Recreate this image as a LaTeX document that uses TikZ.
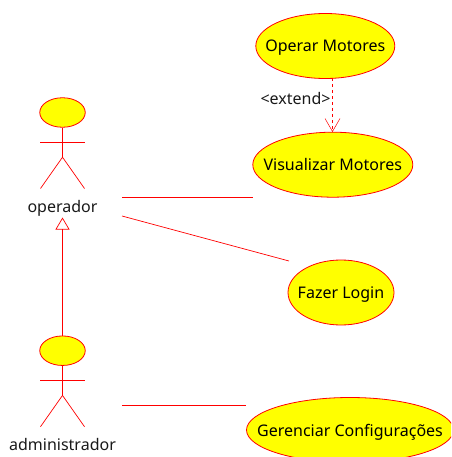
\documentclass[tikz,border=0pt]{standalone}
\usepackage{fontspec}
\setmainfont{Noto Sans}
\usetikzlibrary{arrows.meta,shapes.geometric}
\definecolor{textdecorate}{RGB}{25,25,25}
\definecolor{filldecorate}{RGB}{255,255,0}
\definecolor{strokedecorate}{RGB}{255,0,0}
\tikzset{
  usecasedecorate/.style={shape=ellipse,draw=strokedecorate,fill=filldecorate,line width=0.8pt,
    inner xsep=-40pt,inner ysep=-5pt,text height=12pt,text depth=0pt,
    minimum height=65pt,text=black,font=\fontsize{16}{19}\selectfont},
  headdecorate/.style={shape=ellipse,draw=strokedecorate,fill=filldecorate,line width=0.8pt,inner sep=0pt,
    minimum width=45.5pt,minimum height=29.5pt},
  labeldecorate/.style={inner sep=0pt,text height=12pt,text depth=0pt,text=textdecorate,
    font=\fontsize{16}{19}\selectfont},
  linedecorate/.style={draw=strokedecorate,line width=0.7pt},
  extenddecorate/.style={linedecorate,dashed,-{Straight Barb[length=13pt,width=15pt,line width=0.5pt]}},
  inheritdecorate/.style={linedecorate,-{Triangle[open,length=12pt,width=14pt,line width=0.7pt]}}
}
\begin{document}
\begin{tikzpicture}[x=1pt,y=-1pt]
\clip (0,0) rectangle (451,457);
%% use cases
\foreach \nodename/\x/\y/\w/\name in {operar/325.3/46/139/Operar Motores,
  visualizar/332.8/164.7/160/Visualizar Motores,
  login/341/292.5/106/Fazer Login,
  config/350/430/207/Gerenciar Configurações} {
  \node (\nodename) at (\x,\y) [usecasedecorate,minimum width=\w pt] {\name};
}
%% actors
\foreach \nodename/\y/\name/\ly in {operador/112.5/operador/206.3,
  admin/350.7/administrador/444} {
  \node (\nodename) at (62.5,\y) [headdecorate] {};
  \node (\nodename label) at (62.5,\ly) [labeldecorate] {\name};
  \coordinate (\nodename hip) at (62.5,\y+44.7);
  \coordinate (\nodename arml) at (40,\y+29.5);
  \coordinate (\nodename armr) at (85,\y+29.5);
  \coordinate (\nodename legl) at (40.5,\y+76);
  \coordinate (\nodename legr) at (84.5,\y+76);
  \draw[linedecorate] (\nodename.south) -- (\nodename hip);
  \draw[linedecorate] (\nodename arml) -- (\nodename armr);
  \draw[linedecorate] (\nodename legl) -- (\nodename hip) -- (\nodename legr);
}
%% free ends of the associations
\coordinate (opa) at (122,197.5);
\coordinate (opb) at (122,216);
\coordinate (adma) at (122,405.5);
\coordinate (visa) at (253,197.5);
\coordinate (loga) at (289,261);
\coordinate (cfga) at (246,405.5);
\coordinate (optip) at (62.5,217.5);
\path
\foreach \startnode/\endnode in {opa/visa, opb/loga, adma/cfga} {
  (\startnode) edge[linedecorate] (\endnode)
};
%% extend and generalisation
\coordinate (extstart) at (332.5,78);
\coordinate (extend tip) at (332.5,132);
\draw[extenddecorate] (extstart) -- (extend tip);
\node (extend) at (295.5,99) [labeldecorate] {<extend>};
\draw[inheritdecorate] (admin.north) -- (optip);
\end{tikzpicture}
\end{document}
